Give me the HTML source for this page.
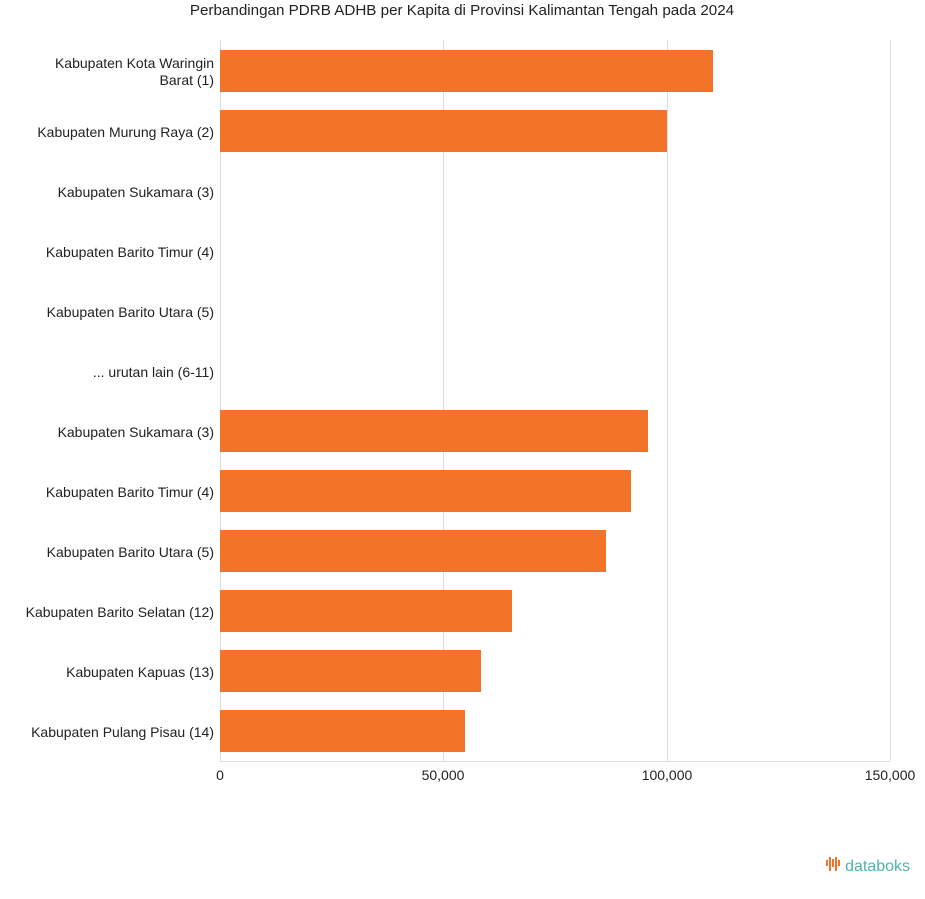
<!DOCTYPE html>
<html><head><meta charset="utf-8"><style>
body{margin:0;background:#fff;width:925px;height:894px;overflow:hidden;font-family:"Liberation Sans",sans-serif;}
</style></head><body>
<svg width="925" height="894" xmlns="http://www.w3.org/2000/svg" font-family="Liberation Sans, sans-serif">
<text x="462" y="15" text-anchor="middle" font-size="15.2" fill="#222">Perbandingan PDRB ADHB per Kapita di Provinsi Kalimantan Tengah pada 2024</text>
<g stroke="#ddd" stroke-width="1">
<line x1="220.5" y1="40" x2="220.5" y2="761"/>
<line x1="443.5" y1="40" x2="443.5" y2="761"/>
<line x1="667.5" y1="40" x2="667.5" y2="761"/>
<line x1="890.5" y1="40" x2="890.5" y2="761"/>
<line x1="220" y1="761.5" x2="890" y2="761.5"/>
</g>
<g fill="#f37429">
<rect x="220" y="50" width="493" height="42"/>
<rect x="220" y="110" width="447" height="42"/>
<rect x="220" y="410" width="428" height="42"/>
<rect x="220" y="470" width="411" height="42"/>
<rect x="220" y="530" width="386" height="42"/>
<rect x="220" y="590" width="292" height="42"/>
<rect x="220" y="650" width="261" height="42"/>
<rect x="220" y="710" width="245" height="42"/>
</g>
<g font-size="14" fill="#222" text-anchor="end">
<text x="214" y="68">Kabupaten Kota Waringin</text>
<text x="214" y="85">Barat (1)</text>
<text x="214" y="137">Kabupaten Murung Raya (2)</text>
<text x="214" y="197">Kabupaten Sukamara (3)</text>
<text x="214" y="257">Kabupaten Barito Timur (4)</text>
<text x="214" y="317">Kabupaten Barito Utara (5)</text>
<text x="214" y="377">... urutan lain (6-11)</text>
<text x="214" y="437">Kabupaten Sukamara (3)</text>
<text x="214" y="497">Kabupaten Barito Timur (4)</text>
<text x="214" y="557">Kabupaten Barito Utara (5)</text>
<text x="214" y="617">Kabupaten Barito Selatan (12)</text>
<text x="214" y="677">Kabupaten Kapuas (13)</text>
<text x="214" y="737">Kabupaten Pulang Pisau (14)</text>
</g>
<g font-size="14" fill="#222" text-anchor="middle">
<text x="220" y="780">0</text>
<text x="443" y="780">50,000</text>
<text x="667" y="780">100,000</text>
<text x="890" y="780">150,000</text>
</g>
<g fill="#f37429">
<rect x="826" y="860" width="2" height="6"/>
<rect x="829" y="857" width="2" height="14"/>
<rect x="832" y="859" width="2" height="8"/>
<rect x="835" y="857" width="2" height="14"/>
<rect x="838" y="860" width="2" height="6"/>
</g>
<text x="910" y="871" font-size="16" fill="#4bb4ae" text-anchor="end">databoks</text>
</svg>
</body></html>
